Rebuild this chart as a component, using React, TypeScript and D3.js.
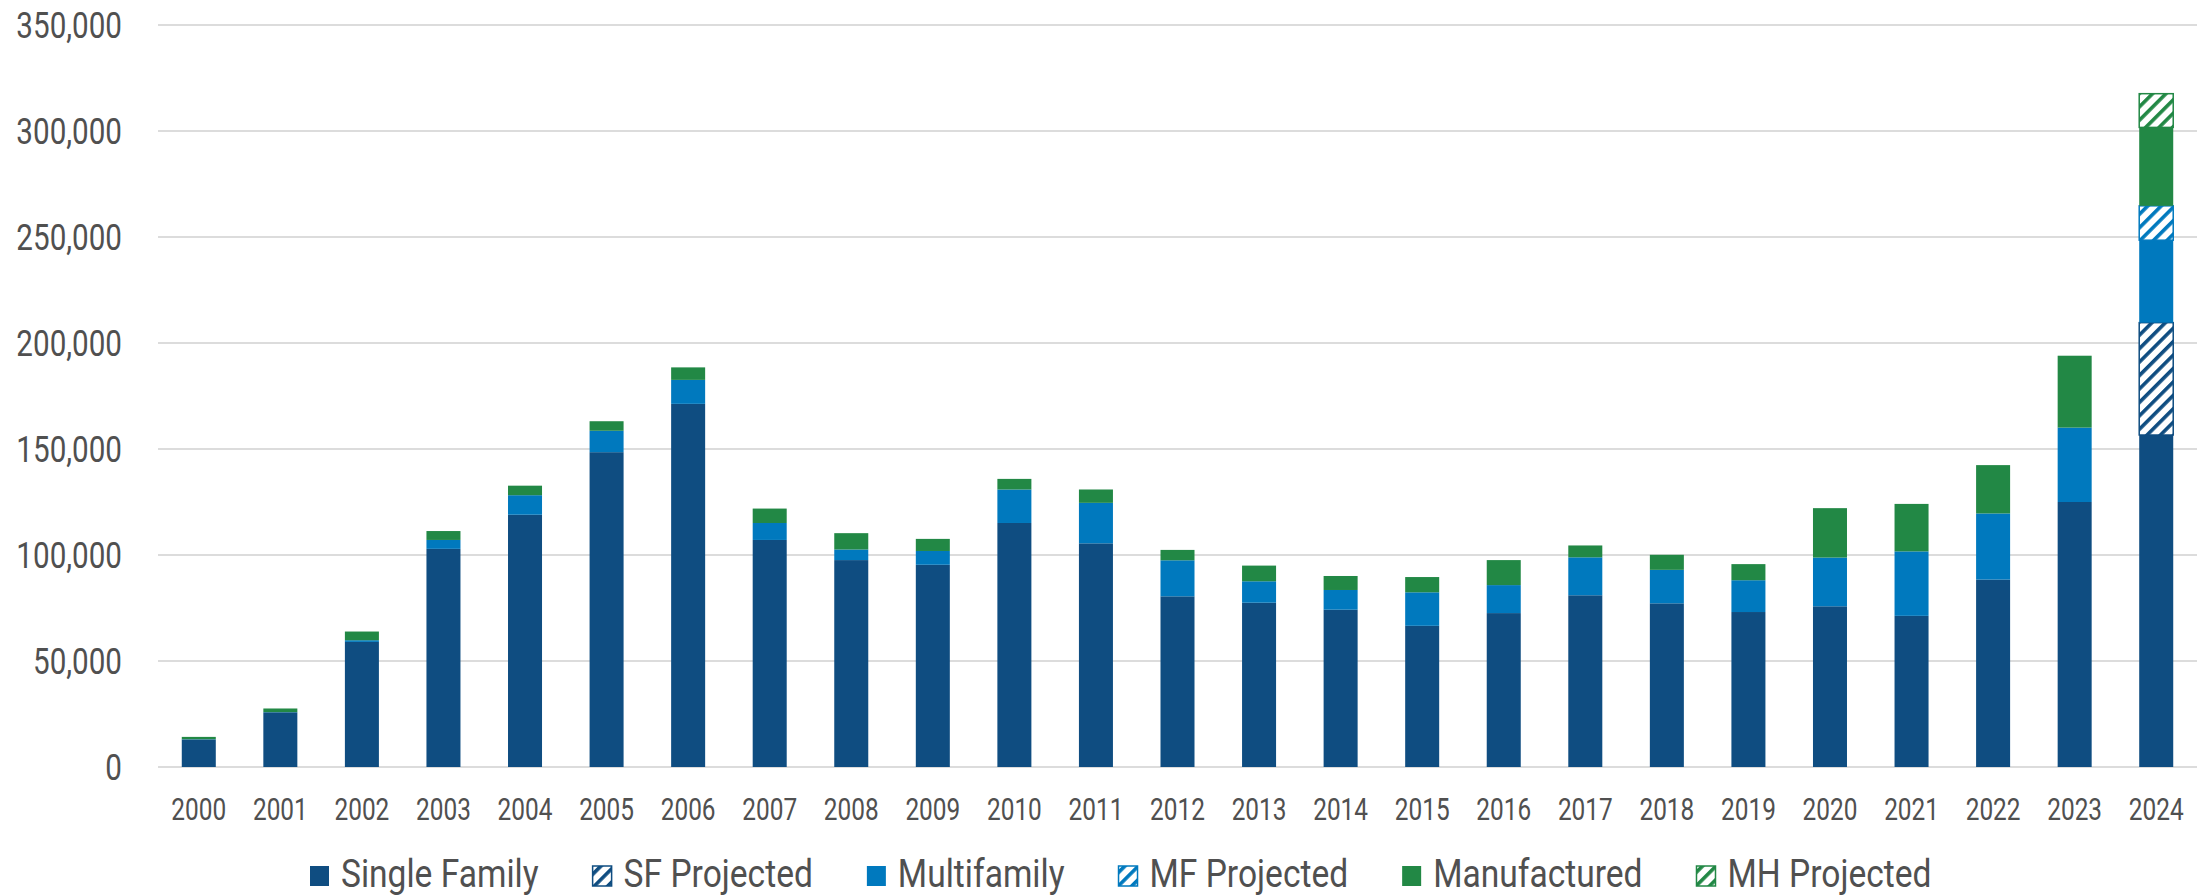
import React, { useEffect, useRef } from "react";
import * as d3 from "d3";

const years = ["2000","2001","2002","2003","2004","2005","2006","2007","2008","2009","2010","2011","2012","2013","2014","2015","2016","2017","2018","2019","2020","2021","2022","2023","2024"];
const singleFamily = [13000, 25800, 59000, 102900, 119000, 148500, 171300, 107100, 97600, 95400, 115100, 105500, 80500, 77500, 74200, 66600, 72600, 81000, 77200, 73100, 75800, 71300, 88400, 125000, 156600];
const sfProjected = [0,0,0,0,0,0,0,0,0,0,0,0,0,0,0,0,0,0,0,0,0,0,0,0,53000];
const multifamily = [100, 100, 800, 4200, 9200, 10100, 11300, 8000, 5000, 6500, 15800, 19100, 17000, 10100, 9300, 15800, 13200, 17900, 15800, 15000, 23000, 30400, 31200, 35100, 38900];
const mfProjected = [0,0,0,0,0,0,0,0,0,0,0,0,0,0,0,0,0,0,0,0,0,0,0,0,16200];
const manufactured = [1100, 1700, 4100, 4200, 4500, 4500, 5900, 6800, 7700, 5700, 5000, 6300, 4900, 7400, 6600, 7200, 11800, 5600, 7100, 7600, 23300, 22400, 22800, 33900, 37000];
const mhProjected = [0,0,0,0,0,0,0,0,0,0,0,0,0,0,0,0,0,0,0,0,0,0,0,0,15900];
const yTicks = [0, 50000, 100000, 150000, 200000, 250000, 300000, 350000];

const seriesNames = ["Single Family", "SF Projected", "Multifamily", "MF Projected", "Manufactured", "MH Projected"];
const seriesKeys = ["sf", "sfp", "mf", "mfp", "mh", "mhp"];
const seriesColors = ["#0f4d81", "#0f4d81", "#0079be", "#0079be", "#228845", "#228845"];
const seriesHatched = [false, true, false, true, false, true];

const W = 2197;
const H = 895;
const SX = 0.8;
const LSX = 0.85;
const FONT = "Roboto, 'Noto Sans', sans-serif";
const TEXT = "#505050";

export default function App() {
  const ref = useRef<SVGSVGElement | null>(null);

  useEffect(() => {
    const svg = d3.select(ref.current);
    svg.selectAll("*").remove();

    const table = years.map((yr, i) => ({
      year: yr,
      sf: singleFamily[i],
      sfp: sfProjected[i],
      mf: multifamily[i],
      mfp: mfProjected[i],
      mh: manufactured[i],
      mhp: mhProjected[i],
    }));

    const x = d3.scaleBand<string>().domain(years).range([158, 2197]).paddingInner(0.583).paddingOuter(0.2915);
    const y = d3.scaleLinear().domain([0, 350000]).range([767, 25]);

    const defs = svg.append("defs");
    seriesKeys.forEach((k, i) => {
      if (!seriesHatched[i]) return;
      const p = defs.append("pattern")
        .attr("id", "hatch-" + k)
        .attr("patternUnits", "userSpaceOnUse")
        .attr("width", 9.5)
        .attr("height", 9.5)
        .attr("patternTransform", "rotate(45)");
      p.append("rect").attr("width", 9.5).attr("height", 9.5).attr("fill", "#fff");
      p.append("rect").attr("width", 3.6).attr("height", 9.5).attr("fill", seriesColors[i]);
    });

    // gridlines
    svg.append("g").selectAll("line").data(yTicks).join("line")
      .attr("x1", 158).attr("x2", 2197)
      .attr("y1", d => y(d)).attr("y2", d => y(d))
      .attr("stroke", "#dcdcdc").attr("stroke-width", 2);

    // y labels
    svg.append("g").selectAll("text").data(yTicks).join("text")
      .attr("transform", d => `translate(122,${y(d)}) scale(${SX},1)`)
      .attr("text-anchor", "end")
      .attr("dy", "0.36em")
      .attr("font-family", FONT)
      .attr("font-size", 37)
      .attr("fill", TEXT)
      .text(d => d3.format(",")(d));

    // bars
    const stacked = d3.stack<any>().keys(seriesKeys)(table);
    stacked.forEach((layer, si) => {
      const g = svg.append("g");
      g.selectAll("rect").data(layer.filter(d => d[1] - d[0] > 0)).join("rect")
        .attr("x", d => x(d.data.year)!)
        .attr("width", x.bandwidth())
        .attr("y", d => y(d[1]))
        .attr("height", d => y(d[0]) - y(d[1]))
        .attr("fill", seriesHatched[si] ? `url(#hatch-${seriesKeys[si]})` : seriesColors[si])
        .attr("stroke", seriesHatched[si] ? seriesColors[si] : "none")
        .attr("stroke-width", seriesHatched[si] ? 1.5 : 0);
    });

    // x labels
    svg.append("g").selectAll("text").data(years).join("text")
      .attr("transform", d => `translate(${x(d)! + x.bandwidth() / 2},820) scale(${SX},1)`)
      .attr("text-anchor", "middle")
      .attr("font-family", FONT)
      .attr("font-size", 30.5)
      .attr("fill", TEXT)
      .text(d => d);

    // legend
    const lg = svg.append("g");
    let lx = 309;
    seriesNames.forEach((name, i) => {
      const sq = lg.append("rect")
        .attr("x", lx + 1).attr("y", 866)
        .attr("width", 19).attr("height", 20)
        .attr("fill", seriesHatched[i] ? `url(#hatch-${seriesKeys[i]})` : seriesColors[i]);
      if (seriesHatched[i]) sq.attr("stroke", seriesColors[i]).attr("stroke-width", 1.5);
      const t = lg.append("text")
        .attr("transform", `translate(${lx + 32},887) scale(${LSX},1)`)
        .attr("font-family", FONT)
        .attr("font-size", 39.5)
        .attr("fill", TEXT)
        .text(name);
      const w = (t.node() as SVGTextElement).getComputedTextLength() * LSX;
      lx = lx + 32 + w + 53;
    });
  }, []);

  return (
    <svg
      ref={ref}
      width={W}
      height={H}
      style={{ position: "absolute", left: 0, top: 0, display: "block", background: "#fff" }}
    />
  );
}
